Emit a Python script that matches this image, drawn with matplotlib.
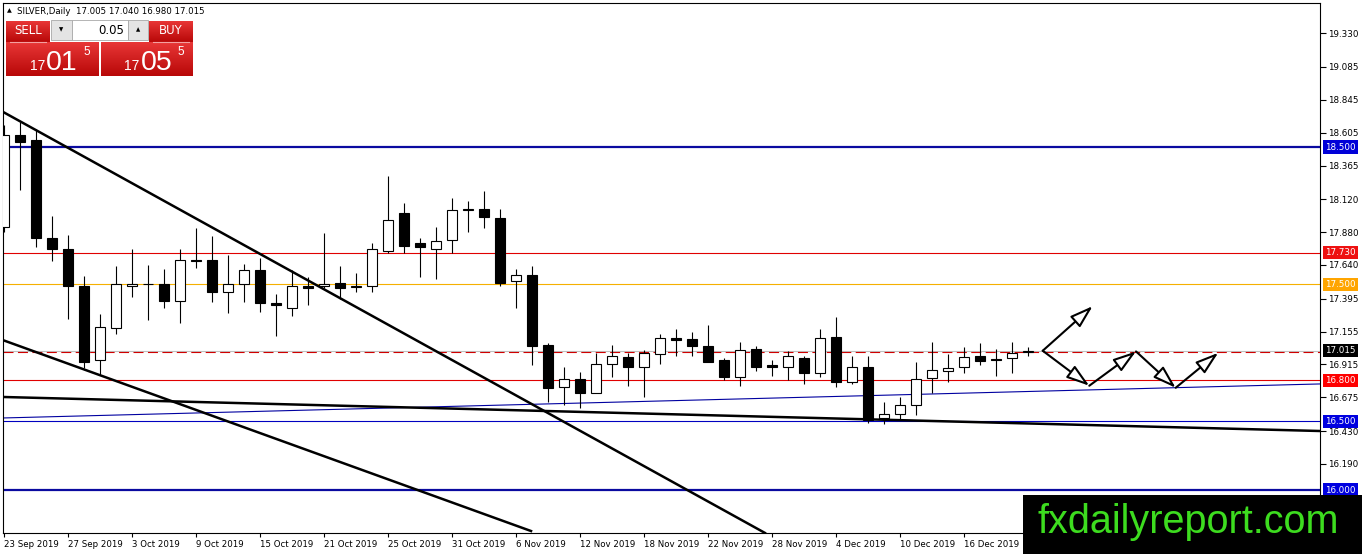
import matplotlib
matplotlib.use("Agg")
import matplotlib.pyplot as plt
import matplotlib.transforms as mtrans
from matplotlib.patches import Rectangle, FancyArrowPatch
import numpy as np

# daily candles, SILVER, 23 Sep 2019 .. 20 Dec 2019 (weekdays)
opens = [17.92, 18.59, 18.55, 17.84, 17.76, 17.49, 16.95, 17.18, 17.49, 17.50,
         17.50, 17.38, 17.68, 17.68, 17.44, 17.50, 17.60, 17.36, 17.33, 17.49,
         17.49, 17.51, 17.48, 17.49, 17.74, 18.02, 17.80, 17.76, 17.82, 18.04,
         18.05, 17.98, 17.52, 17.57, 17.06, 16.75, 16.81, 16.71, 16.92, 16.97,
         16.90, 16.99, 17.105, 17.10, 17.05, 16.95, 16.82, 17.03, 16.91, 16.90,
         16.96, 16.85, 17.115, 16.79, 16.90, 16.525, 16.555, 16.62, 16.815, 16.87,
         16.90, 16.98, 16.955, 16.96, 17.005]
highs = [18.66, 18.68, 18.63, 18.00, 17.86, 17.56, 17.28, 17.63, 17.76, 17.64,
         17.61, 17.76, 17.91, 17.85, 17.71, 17.65, 17.69, 17.43, 17.60, 17.55,
         17.87, 17.63, 17.58, 17.80, 18.29, 18.09, 17.84, 17.92, 18.13, 18.11,
         18.18, 18.05, 17.61, 17.63, 17.07, 16.90, 16.86, 17.00, 17.06, 17.00,
         17.02, 17.14, 17.17, 17.15, 17.20, 16.96, 17.08, 17.05, 16.95, 17.01,
         16.98, 17.17, 17.26, 16.98, 16.98, 16.64, 16.68, 16.93, 17.08, 16.99,
         17.04, 17.07, 17.03, 17.08, 17.04]
lows = [17.88, 18.19, 17.77, 17.67, 17.25, 16.89, 16.84, 17.14, 17.41, 17.24,
        17.33, 17.22, 17.62, 17.37, 17.29, 17.37, 17.30, 17.12, 17.27, 17.35,
        17.47, 17.39, 17.44, 17.44, 17.73, 17.73, 17.55, 17.54, 17.73, 17.88,
        17.91, 17.49, 17.33, 16.91, 16.64, 16.62, 16.60, 16.71, 16.82, 16.76,
        16.68, 16.92, 16.98, 16.98, 16.93, 16.80, 16.76, 16.87, 16.83, 16.80,
        16.77, 16.82, 16.75, 16.77, 16.49, 16.48, 16.52, 16.55, 16.71, 16.79,
        16.85, 16.91, 16.83, 16.85, 16.98]
closes = [18.59, 18.54, 17.84, 17.76, 17.49, 16.93, 17.19, 17.50, 17.50, 17.505,
          17.38, 17.68, 17.67, 17.44, 17.50, 17.60, 17.36, 17.345, 17.49, 17.475,
          17.505, 17.47, 17.49, 17.76, 17.97, 17.78, 17.77, 17.815, 18.04, 18.05,
          17.99, 17.51, 17.57, 17.05, 16.74, 16.81, 16.71, 16.92, 16.98, 16.90,
          17.00, 17.11, 17.095, 17.05, 16.93, 16.82, 17.02, 16.90, 16.90, 16.98,
          16.85, 17.11, 16.79, 16.90, 16.51, 16.555, 16.62, 16.81, 16.875, 16.89,
          16.97, 16.94, 16.945, 17.00, 17.015]

date_ticks = list(range(0, 61, 4))
date_labels = ["23 Sep 2019", "27 Sep 2019", "3 Oct 2019", "9 Oct 2019", "15 Oct 2019",
               "21 Oct 2019", "25 Oct 2019", "31 Oct 2019", "6 Nov 2019", "12 Nov 2019",
               "18 Nov 2019", "22 Nov 2019", "28 Nov 2019", "4 Dec 2019", "10 Dec 2019",
               "16 Dec 2019"]
price_ticks = [19.330, 19.085, 18.845, 18.605, 18.365, 18.120, 17.880, 17.640,
               17.395, 17.155, 16.915, 16.675, 16.430, 16.190]

# horizontal levels: price, colour, width
levels = [(18.500, "#0a0aa0", 1.6), (17.730, "#e00000", 0.8), (17.500, "#f5b000", 0.8),
          (16.800, "#e00000", 0.8), (16.500, "#0000c0", 0.8), (16.000, "#0a0aa0", 1.6)]
level_tags = [(18.500, "#0000d8"), (17.730, "#ee1111"), (17.500, "#ffa500"),
              (17.015, "#000000"), (16.800, "#ff0000"), (16.500, "#0000e0"),
              (16.000, "#0000e0")]
bid = 17.015
dashed_level = 17.007

# trend lines (bar index, price)
trend_black = [([-0.08, 47.56], [18.757, 15.687]),
               ([-0.08, 32.94], [17.093, 15.701]),
               ([-0.06, 82.25], [16.678, 16.430])]
trend_blue = ([-0.06, 82.25], [16.525, 16.773])

# projection arrows
arrow_up = [(64.92, 17.015), (68.04, 17.34)]
zigzag = [(64.92, 17.015), (67.83, 16.76), (70.75, 17.01), (73.23, 16.745), (75.89, 17.0)]

W, H = 1362, 554
fig = plt.figure(figsize=(W / 100, H / 100), dpi=100)
ax = fig.add_axes([3 / W, 21 / H, 1317 / W, 530 / H])
ax.set_xlim(-0.0625, 82.25)
ax.set_ylim(15.6866, 19.5496)

for p, c, lw in levels:
    ax.axhline(p, color=c, lw=lw, zorder=1)
ax.axhline(bid, color="#c0c0c0", lw=0.8, zorder=1)
ax.axhline(dashed_level, color="#d00000", lw=0.8, ls=(0, (9, 4)), zorder=1)

for xs, ys in trend_black:
    ax.plot(xs, ys, color="black", lw=1.8, zorder=4)
ax.plot(trend_blue[0], trend_blue[1], color="#0000a0", lw=0.8, zorder=1)

# candles
x = np.arange(len(opens))
o = np.array(opens); c = np.array(closes)
ax.vlines(x, lows, highs, color="black", lw=0.8, zorder=2)
up = c >= o
bottoms = np.minimum(o, c)
heights = np.abs(c - o)
ax.bar(x[up], heights[up], bottom=bottoms[up], width=0.62, facecolor="white",
       edgecolor="black", linewidth=0.8, zorder=3)
ax.bar(x[~up], heights[~up], bottom=bottoms[~up], width=0.62, facecolor="black",
       edgecolor="black", linewidth=0.8, zorder=3)

def arrow(a, b):
    ar = FancyArrowPatch(a, b, arrowstyle="-|>,head_length=1.4,head_width=0.45",
                         mutation_scale=10, facecolor="white", edgecolor="black",
                         lw=1.5, shrinkA=0, shrinkB=0, zorder=5)
    ax.add_patch(ar)

arrow(arrow_up[0], arrow_up[1])
for a, b in zip(zigzag[:-1], zigzag[1:]):
    arrow(a, b)

# axes / ticks like the terminal
for s in ax.spines.values():
    s.set_linewidth(0.8)
ax.yaxis.tick_right()
ax.set_yticks(price_ticks)
ax.set_yticklabels([f"{p:.3f}" for p in price_ticks])
ax.tick_params(axis="y", length=4, width=0.8, pad=2, labelsize=6.3)
ax.set_xticks(date_ticks)
ax.set_xticklabels(date_labels)
for t in ax.get_xticklabels():
    t.set_horizontalalignment("left")
ax.tick_params(axis="x", length=3, width=0.8, pad=2, labelsize=6.2)

tr = mtrans.blended_transform_factory(ax.transAxes, ax.transData)
for p, col in level_tags:
    ax.text(1.0038, p, f"{p:.3f}", transform=tr, ha="left", va="center", fontsize=6.3,
            color="white", clip_on=False, zorder=10,
            bbox=dict(boxstyle="square,pad=0.25", fc=col, ec="none"))

# overlay in pixel coordinates: header, trade panel, watermark
ov = fig.add_axes([0, 0, 1, 1], zorder=20)
ov.set_xlim(0, W)
ov.set_ylim(H, 0)
ov.axis("off")

ov.text(9, 11, "▲", fontsize=4.5, ha="center", va="center")
ov.text(17, 11, "SILVER,Daily  17.005 17.040 16.980 17.015", fontsize=6.2,
        ha="left", va="center")

grad = np.linspace(0, 1, 50).reshape(-1, 1)
red_cmap = matplotlib.colors.LinearSegmentedColormap.from_list("r", ["#e83636", "#b80808"])
for x0, x1, y0, y1 in [(6, 50, 21, 42), (149, 193, 21, 42), (6, 99, 42, 76), (101, 193, 42, 76)]:
    ov.imshow(grad, cmap=red_cmap, extent=(x0, x1, y1, y0), aspect="auto", zorder=1)
ov.set_xlim(0, W)
ov.set_ylim(H, 0)
for x0, x1 in [(10, 46), (153, 189)]:
    ov.plot([x0, x1], [41.5, 41.5], color="#f4a0a0", lw=0.8, zorder=2)
ov.text(28, 31, "SELL", color="white", fontsize=8.5, ha="center", va="center", zorder=3)
ov.text(171, 31, "BUY", color="white", fontsize=8.5, ha="center", va="center", zorder=3)
ov.add_patch(Rectangle((51, 20), 21, 20, fc="#e4e4e4", ec="#a8a8a8", lw=0.6, zorder=2))
ov.add_patch(Rectangle((72, 20), 56, 20, fc="white", ec="#a8a8a8", lw=0.6, zorder=2))
ov.add_patch(Rectangle((128, 20), 20, 20, fc="#e4e4e4", ec="#a8a8a8", lw=0.6, zorder=2))
ov.text(61.5, 30, "▼", fontsize=4, ha="center", va="center", zorder=3)
ov.text(138, 30, "▲", fontsize=4, ha="center", va="center", zorder=3)
ov.text(124, 30, "0.05", fontsize=8.5, ha="right", va="center", zorder=3)
for x17, xbig, x5, big in [(30, 46, 83, "01"), (124, 141, 177, "05")]:
    ov.text(x17, 70, "17", color="white", fontsize=10, family="Liberation Sans",
            ha="left", va="baseline", zorder=3)
    ov.text(xbig, 70, big, color="white", fontsize=20.5, family="Liberation Sans",
            ha="left", va="baseline", zorder=3)
    ov.text(x5, 55, "5", color="white", fontsize=8.5, family="Liberation Sans",
            ha="left", va="baseline", zorder=3)

ov.add_patch(Rectangle((1022.5, 495), W - 1022.5, H - 495, fc="black", ec="none", zorder=5))
ov.text(1037, 533, "fxdailyreport.com", color="#3ddc1f", fontsize=28.5,
        family="Liberation Sans", ha="left", va="baseline", zorder=6)

fig.savefig("out.png", dpi=100)
